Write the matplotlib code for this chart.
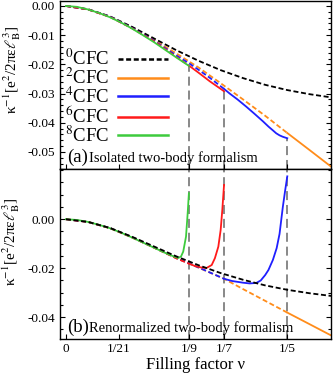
import matplotlib
matplotlib.use("Agg")
import matplotlib.pyplot as plt
from matplotlib.lines import Line2D
from matplotlib.ticker import MultipleLocator
import numpy as np

plt.rcParams['font.family'] = ['Liberation Serif', 'DejaVu Serif']
plt.rcParams['mathtext.fontset'] = 'stix'
plt.rcParams['axes.unicode_minus'] = False
plt.rcParams['lines.scale_dashes'] = False

# ---------------- data ----------------
labels = [r'$^{0}$CFC', r'$^{2}$CFC', r'$^{4}$CFC', r'$^{6}$CFC', r'$^{8}$CFC']
colors = ['#000000', '#FF8C1A', '#1F1FFF', '#FF1A1A', '#3DCB3D']

xtick_vals = [0, 1/21, 1/9, 1/7, 1/5]
xtick_labels = ['0', '1/21', '1/9', '1/7', '1/5']

# 0CFC (same in both panels)
nu_0 = [0, 0.02, 0.04, 0.06, 0.08, 0.10, 0.12, 0.14, 0.16, 0.18, 0.20, 0.22, 0.2395]
k_0 = [0, -0.0011, -0.0036, -0.0072, -0.0112, -0.0152, -0.0188, -0.0220, -0.0247,
       -0.0270, -0.0288, -0.0302, -0.0313]

# (a) isolated two-body formalism
nu_2a = [0, 0.02, 0.04, 0.06, 0.08, 0.10, 0.12, 0.14, 0.16, 0.18, 0.20, 0.22, 0.2395]
k_2a = [0, -0.0012, -0.0037, -0.0075, -0.0117, -0.0163, -0.0211, -0.0265, -0.0320,
        -0.0376, -0.0435, -0.0493, -0.0550]
nu_4a = [0, 0.02, 0.04, 0.06, 0.08, 0.10, 1/9, 0.12, 0.13, 1/7, 0.148, 0.155, 0.163,
         0.170, 0.178, 0.183, 0.187, 0.190, 0.193, 0.196, 0.20]
k_4a = [0, -0.0012, -0.0037, -0.0076, -0.0120, -0.0170, -0.0196, -0.0219, -0.0246,
        -0.0284, -0.0300, -0.0320, -0.0345, -0.0368, -0.0395, -0.0413, -0.0426,
        -0.0436, -0.0443, -0.0448, -0.0453]
nu_6a = [0, 0.02, 0.04, 0.06, 0.08, 0.10, 1/9, 0.12, 0.13, 1/7]
k_6a = [0, -0.0012, -0.0038, -0.0077, -0.0122, -0.0175, -0.0204, -0.0229, -0.0258, -0.0292]
nu_8a = [0, 0.01, 0.02, 0.03, 0.04, 0.05, 0.06, 0.07, 0.08, 0.09, 0.10, 1/9]
k_8a = [0, -0.0003, -0.0012, -0.0024, -0.0039, -0.0057, -0.0078, -0.0101, -0.0125,
        -0.0151, -0.0177, -0.0205]

# (b) renormalized two-body formalism
nu_2b = [0, 0.02, 0.04, 0.06, 0.08, 0.10, 1/9, 0.12, 1/7, 0.16, 0.18, 0.20, 0.22, 0.2395]
k_2b = [0, -0.0011, -0.0036, -0.0074, -0.0116, -0.0159, -0.0180, -0.0198, -0.0243,
        -0.0285, -0.0333, -0.0381, -0.0428, -0.0474]
nu_4b = [0, 0.02, 0.04, 0.06, 0.08, 0.10, 1/9, 0.125, 1/7, 0.15, 0.16, 0.166, 0.172,
         0.176, 0.180, 0.183, 0.187, 0.1904, 0.193, 0.196, 0.198, 0.20]
k_4b = [0, -0.0011, -0.0036, -0.0074, -0.0116, -0.0159, -0.0180, -0.0207, -0.0243,
        -0.0252, -0.0259, -0.0262, -0.0260, -0.0250, -0.0228, -0.0207, -0.0166,
        -0.0118, -0.0060, 0.0051, 0.0115, 0.0175]
nu_6b = [0, 0.02, 0.04, 0.06, 0.08, 0.10, 1/9, 0.116, 0.121, 0.127, 0.1317, 0.1346,
         0.1377, 0.1398, 0.1413, 1/7]
k_6b = [0, -0.0011, -0.0037, -0.0075, -0.0117, -0.0160, -0.0181, -0.0190, -0.0196,
        -0.0199, -0.0187, -0.0159, -0.0112, -0.0044, 0.0038, 0.0140]
nu_8b = [0, 0.01, 0.02, 0.03, 0.04, 0.05, 0.06, 0.07, 0.08, 0.09, 0.098, 0.1015,
         0.104, 0.106, 0.1085, 0.110, 1/9]
k_8b = [0, -0.0003, -0.0011, -0.0023, -0.0037, -0.0055, -0.0075, -0.0096, -0.0117,
        -0.0138, -0.0153, -0.0158, -0.0152, -0.0132, -0.0071, 0.0024, 0.0106]

panel_a_text = 'Isolated two-body formalism'
panel_b_text = 'Renormalized two-body formalism'
ylabel = r'κ$^{-1}$[e$^{2}$/2πε$\ell_{\mathrm{B}}^{3}$]'
xlabel = 'Filling factor ν'

# ---------------- figure ----------------
fig = plt.figure(figsize=(3.33, 3.74), dpi=100)
ax_a = fig.add_axes([0.180, 0.5468, 0.814, 0.4505])
ax_b = fig.add_axes([0.180, 0.0928, 0.814, 0.4540])

LW = 1.3
DASH = (0, (3.6, 1.9))
GRAY_DASH = (0, (6.5, 3.5))
GRAY = '#7f7f7f'


def draw_split(ax, nu, k, color, lo, hi, z):
    nu = np.asarray(nu)
    k = np.asarray(k)
    dashed = nu <= lo + 1e-9
    if dashed.sum() > 1:
        ax.plot(nu[dashed], k[dashed], color=color, lw=LW, linestyle=DASH, zorder=z)
    if hi is None:
        solid = nu >= lo - 1e-9
    else:
        solid = (nu >= lo - 1e-9) & (nu <= hi + 1e-9)
    ax.plot(nu[solid], k[solid], color=color, lw=LW, linestyle='-', zorder=z)


def setup(ax, ylim, yticks, yminor):
    ax.set_xlim(-0.0054, 0.2395)
    ax.set_ylim(*ylim)
    ax.set_xticks(xtick_vals)
    ax.set_yticks(yticks)
    ax.yaxis.set_minor_locator(MultipleLocator(yminor))
    ax.tick_params(which='both', direction='in', right=True, top=False,
                   labelsize=9.5, width=0.8, pad=3.5)
    ax.tick_params(which='major', length=3.5)
    ax.tick_params(which='minor', length=2)
    for s in ax.spines.values():
        s.set_linewidth(1.0)


# panel (a)
setup(ax_a, (-0.056, 0.0017), [0.0, -0.01, -0.02, -0.03, -0.04, -0.05], 0.002)
ax_a.set_yticklabels(['0.00', '-0.01', '-0.02', '-0.03', '-0.04', '-0.05'])
ax_a.set_xticklabels([])
ax_a.vlines([1/9, 1/7, 1/5], -0.056, [k_8a[-1], k_6a[-1], k_4a[-1]],
            colors=GRAY, lw=1.3, linestyles=[GRAY_DASH], zorder=1)
ax_a.plot(nu_0, k_0, color=colors[0], lw=LW, linestyle=DASH, zorder=3)
draw_split(ax_a, nu_2a, k_2a, colors[1], 1/5, None, 2)
draw_split(ax_a, nu_4a, k_4a, colors[2], 1/7, 1/5, 4)
draw_split(ax_a, nu_6a, k_6a, colors[3], 1/9, 1/7, 5)
ax_a.plot(nu_8a, k_8a, color=colors[4], lw=LW, zorder=6)

handles = [Line2D([], [], color=colors[0], lw=1.8, linestyle=DASH)] + \
          [Line2D([], [], color=c, lw=1.8) for c in colors[1:]]
ax_a.legend(handles, labels, loc='upper left', bbox_to_anchor=(0.02, 0.715),
            frameon=False, markerfirst=False, fontsize=13.5, handlelength=2.65,
            handletextpad=0.45, labelspacing=-0.08, borderpad=0, borderaxespad=0)
ax_a.text(0.025, 0.045, '(a)', transform=ax_a.transAxes, fontsize=13.5, va='baseline')
ax_a.text(0.108, 0.045, panel_a_text, transform=ax_a.transAxes, fontsize=10.5,
          va='baseline')
ax_a.set_ylabel(ylabel, fontsize=11)
ax_a.yaxis.set_label_coords(-0.135, 0.59)

# panel (b)
setup(ax_b, (-0.049, 0.0203), [0.0, -0.02, -0.04], 0.005)
ax_b.set_yticklabels(['0.00', '-0.02', '-0.04'])
ax_b.set_xticklabels(xtick_labels)
ax_b.tick_params(axis='x', pad=3)
for xv in [1/9, 1/7, 1/5]:
    ax_b.axvline(xv, color=GRAY, lw=1.3, linestyle=GRAY_DASH, zorder=1)
draw_split(ax_b, nu_2b, k_2b, colors[1], 1/5, None, 2)
draw_split(ax_b, nu_4b, k_4b, colors[2], 1/7, 1/5, 4)
draw_split(ax_b, nu_6b, k_6b, colors[3], 1/9, 1/7, 5)
ax_b.plot(nu_8b, k_8b, color=colors[4], lw=LW, zorder=6)
ax_b.plot(nu_0, k_0, color=colors[0], lw=LW, linestyle=DASH, zorder=7)
ax_b.text(0.025, 0.045, '(b)', transform=ax_b.transAxes, fontsize=13.5, va='baseline')
ax_b.text(0.108, 0.045, panel_b_text, transform=ax_b.transAxes, fontsize=10.5,
          va='baseline')
ax_b.set_ylabel(ylabel, fontsize=11)
ax_b.yaxis.set_label_coords(-0.14, 0.575)
ax_b.set_xlabel(xlabel, fontsize=12, labelpad=1)

fig.savefig('out.png', dpi=100)
